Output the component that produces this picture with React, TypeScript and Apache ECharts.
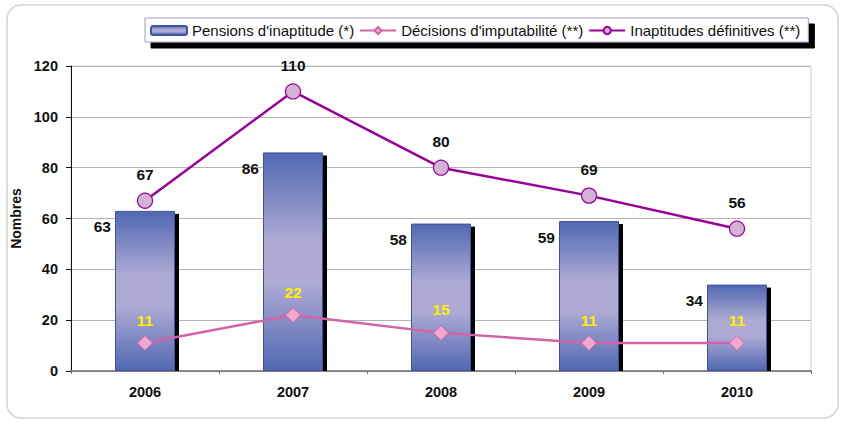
import React, { useEffect, useRef } from "react";
import * as echarts from "echarts";

const years = ["2006", "2007", "2008", "2009", "2010"];
const pensions = [63, 86, 58, 59, 34];
const decisions = [11, 22, 15, 11, 11];
const inaptitudes = [67, 110, 80, 69, 56];
const yTicks = { min: 0, max: 120, interval: 20 };

const FONT = "'Liberation Sans', Arial, sans-serif";

export default function App() {
  const ref = useRef<HTMLDivElement>(null);
  useEffect(() => {
    if (!ref.current) return;
    const chart = echarts.init(ref.current, null, { renderer: "svg" });
    const barGradient = new echarts.graphic.LinearGradient(0, 0, 0, 1, [
      { offset: 0, color: "#5068b2" },
      { offset: 0.4, color: "#aeaad4" },
      { offset: 0.6, color: "#aeaad4" },
      { offset: 1, color: "#5068b2" },
    ]);
    chart.setOption({
      animation: false,
      backgroundColor: "#ffffff",
      textStyle: { fontFamily: FONT },
      graphic: [
        {
          type: "rect",
          shape: { x: 7, y: 5, width: 831, height: 413, r: 14 },
          style: { fill: "none", stroke: "#d4d4d4", lineWidth: 1.5 },
          z: -10,
        },
      ],
      legend: {
        left: 145,
        top: 18,
        padding: [5, 8, 4, 5],
        itemGap: 5,
        itemWidth: 36,
        itemHeight: 9,
        backgroundColor: "#ffffff",
        borderColor: "#9a9ac8",
        borderWidth: 1,
        shadowColor: "#000000",
        shadowOffsetX: 6,
        shadowOffsetY: 6,
        shadowBlur: 0,
        textStyle: { fontFamily: FONT, fontSize: 15, color: "#111" },
        data: [
          "Pensions d'inaptitude (*)",
          "Décisions d'imputabilité (**)",
          "Inaptitudes définitives (**)",
        ],
      },
      grid: {
        left: 71,
        right: 32,
        top: 66,
        bottom: 51,
        show: true,
        borderColor: "#d0d0d0",
        borderWidth: 1,
      },
      xAxis: {
        type: "category",
        data: years,
        axisLine: { lineStyle: { color: "#707070", width: 1.5 } },
        axisTick: { show: true, length: 3, lineStyle: { color: "#707070" } },
        axisLabel: {
          margin: 13,
          fontFamily: FONT,
          fontSize: 14.5,
          fontWeight: "bold",
          color: "#111",
        },
      },
      yAxis: {
        type: "value",
        min: yTicks.min,
        max: yTicks.max,
        interval: yTicks.interval,
        name: "Nombres",
        nameLocation: "middle",
        nameGap: 48,
        nameTextStyle: {
          fontFamily: FONT,
          fontSize: 14,
          fontWeight: "bold",
          color: "#111",
        },
        axisLine: { show: true, lineStyle: { color: "#111", width: 1 } },
        axisTick: { show: true, length: 5, lineStyle: { color: "#111" } },
        axisLabel: {
          margin: 13,
          fontFamily: FONT,
          fontSize: 14.5,
          fontWeight: "bold",
          color: "#111",
        },
        splitLine: { lineStyle: { color: "#b4b4b4", width: 1 } },
      },
      series: [
        {
          name: "shadow",
          type: "custom",
          z: 1,
          silent: true,
          data: pensions.map((v, i) => [i, v]),
          renderItem: (params: any, api: any) => {
            const top = api.coord([api.value(0), api.value(1)]);
            const base = api.coord([api.value(0), 0]);
            return {
              type: "rect",
              shape: {
                x: top[0] + 30,
                y: top[1] + 3,
                width: 4,
                height: base[1] - top[1] - 3,
              },
              style: { fill: "#000000" },
            };
          },
        },
        {
          name: "Pensions d'inaptitude (*)",
          type: "bar",
          z: 2,
          barWidth: 60,
          data: pensions,
          itemStyle: {
            color: barGradient,
            borderColor: "#3f52a2",
            borderWidth: 1,
          },
          label: {
            show: true,
            position: [-4, 16],
            align: "right",
            verticalAlign: "middle",
            fontFamily: FONT,
            fontSize: 15.5,
            fontWeight: "bold",
            color: "#111",
          },
        },
        {
          name: "Décisions d'imputabilité (**)",
          type: "line",
          z: 4,
          data: decisions,
          symbol: "diamond",
          symbolSize: 15,
          lineStyle: { color: "#d163a8", width: 2.5 },
          itemStyle: { color: "#f0a8cf", borderColor: "#d163a8", borderWidth: 1 },
          label: {
            show: true,
            position: "top",
            distance: 7,
            fontFamily: FONT,
            fontSize: 15.5,
            fontWeight: "bold",
            color: "#ffee00",
          },
        },
        {
          name: "Inaptitudes définitives (**)",
          type: "line",
          z: 4,
          data: inaptitudes,
          symbol: "circle",
          symbolSize: 15,
          lineStyle: { color: "#990099", width: 2.5 },
          itemStyle: { color: "#d4b2d6", borderColor: "#990099", borderWidth: 1.2 },
          label: {
            show: true,
            position: "top",
            distance: 10,
            fontFamily: FONT,
            fontSize: 15.5,
            fontWeight: "bold",
            color: "#111",
          },
        },
      ],
    });
    return () => chart.dispose();
  }, []);
  return (
    <div
      ref={ref}
      style={{ position: "absolute", left: 0, top: 0, width: 843, height: 422 }}
    />
  );
}
